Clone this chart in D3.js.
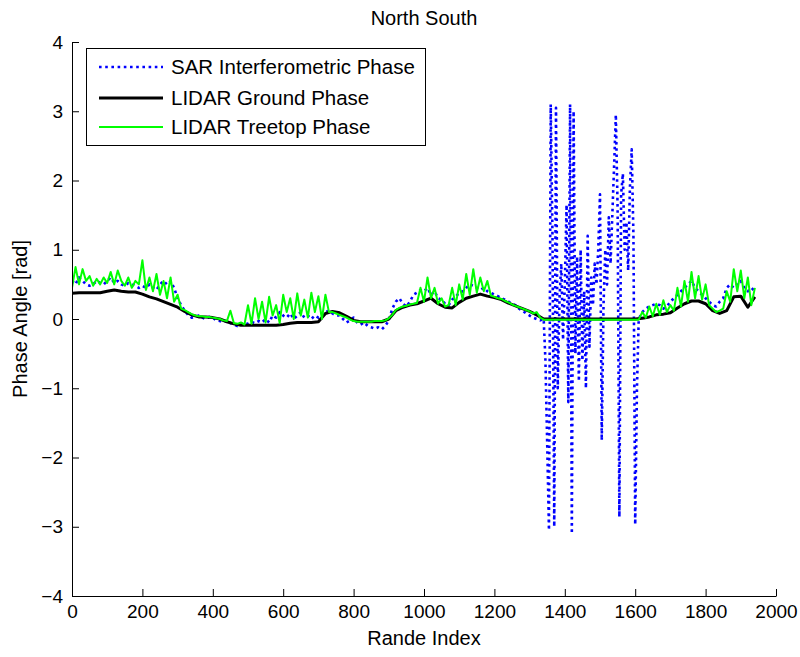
<!DOCTYPE html>
<html>
<head>
<meta charset="utf-8">
<script src="https://cdn.jsdelivr.net/npm/d3@7/dist/d3.min.js"></script>
<style>
  html, body { margin: 0; padding: 0; background: #fff; }
  svg { display: block; }
  text { font-family: "Liberation Sans", Arial, Helvetica, sans-serif; fill: #000; }
</style>
</head>
<body>
<svg id="chart" width="800" height="657"></svg>
<script>
// ---------------- DATA ----------------
const title = "North South";
const xLabel = "Rande Index";
const yLabel = "Phase Angle [rad]";
const seriesNames = ["SAR Interferometric Phase", "LIDAR Ground Phase", "LIDAR Treetop Phase"];
const xTicks = [0, 200, 400, 600, 800, 1000, 1200, 1400, 1600, 1800, 2000];
const yTicks = [-4, -3, -2, -1, 0, 1, 2, 3, 4];

// LIDAR ground phase, range index 0..1940 step 20
const groundStep = 20;
const groundPhase = [
  0.37, 0.38, 0.38, 0.38, 0.38, 0.40, 0.42, 0.40, 0.39, 0.39,
  0.36, 0.32, 0.29, 0.25, 0.21, 0.17, 0.11, 0.06, 0.03, 0.03,
  0.02, 0.00, -0.04, -0.07, -0.09, -0.09, -0.09, -0.09, -0.09, -0.09,
  -0.08, -0.06, -0.05, -0.05, -0.05, -0.04, 0.08, 0.11, 0.09, 0.04,
  -0.02, -0.04, -0.04, -0.04, -0.04, 0.00, 0.12, 0.17, 0.20, 0.22,
  0.26, 0.30, 0.22, 0.17, 0.16, 0.24, 0.30, 0.33, 0.36, 0.33,
  0.31, 0.28, 0.23, 0.19, 0.15, 0.11, 0.06, 0.00, 0.00, 0.00,
  0.00, 0.00, 0.00, 0.00, 0.00, 0.00, 0.00, 0.00, 0.00, 0.00,
  0.00, 0.01, 0.03, 0.06, 0.07, 0.09, 0.16, 0.22, 0.26, 0.26,
  0.22, 0.12, 0.08, 0.12, 0.32, 0.33, 0.17, 0.32
];

// LIDAR treetop phase, range index 0..1940 step 10
const treeStep = 10;
const treetopPhase = [
  0.45, 0.75, 0.50, 0.72, 0.55, 0.62, 0.48, 0.58, 0.50, 0.60,
  0.52, 0.68, 0.50, 0.70, 0.55, 0.48, 0.60, 0.45, 0.55, 0.50,
  0.85, 0.42, 0.60, 0.40, 0.65, 0.35, 0.55, 0.30, 0.60, 0.25,
  0.35, 0.15, 0.13, 0.10, 0.07, 0.05, 0.04, 0.04, 0.03, 0.03,
  0.02, 0.01, 0.00, -0.02, -0.03, 0.12, -0.06, -0.07, -0.05, -0.08,
  0.20, -0.07, 0.30, 0.00, 0.25, -0.05, 0.32, 0.05, 0.20, -0.06,
  0.35, 0.10, 0.30, 0.00, 0.37, 0.05, 0.28, 0.02, 0.38, 0.10,
  0.33, 0.00, 0.35, 0.10, 0.10, 0.08, 0.06, 0.04, 0.02, -0.01,
  -0.03, -0.04, -0.04, -0.04, -0.04, -0.04, -0.03, -0.03, -0.03, -0.02,
  0.01, 0.06, 0.13, 0.16, 0.18, 0.19, 0.21, 0.22, 0.23, 0.45,
  0.25, 0.60, 0.30, 0.45, 0.22, 0.30, 0.18, 0.20, 0.45, 0.20,
  0.50, 0.28, 0.65, 0.35, 0.72, 0.38, 0.60, 0.40, 0.55, 0.34,
  0.32, 0.30, 0.29, 0.26, 0.24, 0.21, 0.19, 0.17, 0.15, 0.13,
  0.11, 0.08, 0.10, 0.02, -0.01, -0.01, -0.01, -0.01, -0.01, -0.01,
  -0.01, -0.01, -0.01, -0.01, -0.01, -0.01, -0.01, -0.01, -0.01, -0.01,
  -0.01, -0.01, -0.01, -0.01, -0.01, -0.01, -0.01, -0.01, -0.01, -0.01,
  -0.01, -0.01, 0.10, 0.02, 0.18, 0.04, 0.22, 0.06, 0.27, 0.10,
  0.20, 0.12, 0.45, 0.18, 0.55, 0.25, 0.68, 0.30, 0.62, 0.28,
  0.50, 0.20, 0.15, 0.10, 0.12, 0.15, 0.40, 0.25, 0.72, 0.40,
  0.70, 0.30, 0.60, 0.20, 0.45
];

// SAR interferometric phase: three stretches
// index 0..1330 step 10
const sarLowStart = 0, sarLowStep = 10;
const sarPhaseLow = [
  0.55, 0.50, 0.60, 0.55, 0.50, 0.48, 0.50, 0.55, 0.52, 0.50,
  0.55, 0.60, 0.52, 0.55, 0.50, 0.48, 0.52, 0.50, 0.48, 0.45,
  0.48, 0.45, 0.50, 0.45, 0.42, 0.50, 0.55, 0.50, 0.55, 0.45,
  0.30, 0.20, 0.12, 0.06, 0.02, 0.03, 0.05, 0.02, 0.00, 0.03,
  0.02, -0.02, -0.03, -0.05, -0.02, -0.06, -0.08, -0.10, -0.08, -0.05,
  -0.07, -0.04, -0.06, -0.03, -0.05, 0.00, -0.05, 0.05, 0.02, 0.10,
  0.05, 0.02, 0.08, 0.00, 0.05, 0.10, 0.02, 0.05, 0.00, 0.05,
  0.02, 0.08, 0.10, 0.12, 0.08, 0.05, 0.05, 0.00, -0.05, -0.02,
  0.02, -0.05, -0.08, -0.05, -0.10, -0.12, -0.14, -0.12, -0.15, -0.10,
  -0.02, 0.15, 0.25, 0.30, 0.22, 0.18, 0.25, 0.35, 0.38, 0.42,
  0.40, 0.45, 0.35, 0.40, 0.30, 0.28, 0.22, 0.20, 0.28, 0.32,
  0.38, 0.40, 0.45, 0.50, 0.48, 0.45, 0.42, 0.45, 0.40, 0.38,
  0.35, 0.33, 0.30, 0.28, 0.25, 0.22, 0.20, 0.15, 0.12, 0.08,
  0.05, 0.02, 0.00, -0.02
];
// wrapped stretch, index 1340..1610 step 5
const sarWrapStart = 1340, sarWrapStep = 5;
const sarPhaseWrap = [
  0.00, -0.60, -1.80, -3.05, 3.10, 1.20, -3.00, 3.05, -1.00, 0.30,
  0.80, -0.30, 0.50, 1.65, -1.20, 3.10, -3.10, 3.00, -0.50, 0.90,
  -0.90, 1.00, -0.60, 0.40, -1.00, 1.20, -0.40, 0.60, 0.20, 0.80,
  0.50, 1.00, 1.80, -1.75, 0.20, 1.00, 0.50, 1.47, 0.80, 1.50,
  2.20, 2.95, 1.60, -2.86, 1.80, 2.10, 1.00, 1.40, 0.70, 1.90,
  2.45, 1.20, -2.97, -1.00, 0.00
];
// index 1620..1940 step 10
const sarHighStart = 1620, sarHighStep = 10;
const sarPhaseHigh = [
  0.10, 0.15, 0.18, 0.20, 0.22, 0.20, 0.15, 0.18, 0.25, 0.30,
  0.35, 0.40, 0.45, 0.50, 0.55, 0.45, 0.40, 0.35, 0.30, 0.25,
  0.20, 0.18, 0.25, 0.30, 0.45, 0.50, 0.45, 0.50, 0.55, 0.45,
  0.40, 0.45, 0.40
];

// ---------------- CHART ----------------
const svg = d3.select("#chart");
const margin = { left: 72, right: 24, top: 42, bottom: 61 };
const W = 800, H = 657;
const x0 = margin.left, x1 = W - margin.right;
const y0 = margin.top, y1 = H - margin.bottom;

const x = d3.scaleLinear().domain([0, 2000]).range([x0, x1]);
const y = d3.scaleLinear().domain([-4, 4]).range([y1, y0]);

const toPts = (arr, start, step) => arr.map((v, i) => [start + i * step, v]);
const sarPts = toPts(sarPhaseLow, sarLowStart, sarLowStep)
  .concat(toPts(sarPhaseWrap, sarWrapStart, sarWrapStep))
  .concat(toPts(sarPhaseHigh, sarHighStart, sarHighStep));
const groundPts = toPts(groundPhase, 0, groundStep);
const treePts = toPts(treetopPhase, 0, treeStep);

svg.append("defs").append("clipPath").attr("id", "clip")
  .append("rect").attr("x", x0).attr("y", y0).attr("width", x1 - x0).attr("height", y1 - y0);

const line = d3.line().x(d => x(d[0])).y(d => y(d[1]));
const styles = [
  { color: "#0000ff", width: 2.6, dash: "2.6,3.6" },
  { color: "#000000", width: 3, dash: null },
  { color: "#00ff00", width: 2, dash: null }
];
const g = svg.append("g").attr("clip-path", "url(#clip)");
[sarPts, groundPts, treePts].forEach((pts, k) => {
  g.append("path").datum(pts)
    .attr("fill", "none")
    .attr("stroke", styles[k].color)
    .attr("stroke-width", styles[k].width)
    .attr("stroke-dasharray", styles[k].dash)
    .attr("stroke-linejoin", "round")
    .attr("d", line);
});

// axes
const fontSize = 20;
const fmt = d3.format("d");
const xAxis = d3.axisBottom(x).tickValues(xTicks).tickFormat(fmt).tickSizeInner(-7).tickSizeOuter(0).tickPadding(9);
const yAxis = d3.axisLeft(y).tickValues(yTicks).tickFormat(fmt).tickSizeInner(-7).tickSizeOuter(0).tickPadding(9);
const gx = svg.append("g").attr("transform", `translate(0,${y1})`).call(xAxis);
const gy = svg.append("g").attr("transform", `translate(${x0},0)`).call(yAxis);
[gx, gy].forEach(a => {
  a.select(".domain").attr("stroke", "#000").attr("stroke-width", 1);
  a.selectAll(".tick line").attr("stroke", "#000").attr("stroke-width", 1);
  a.selectAll(".tick text").attr("fill", "#000").style("font-size", "19px")
    .style("font-family", '"Liberation Sans", Arial, sans-serif');
});

// title and labels
svg.append("text").attr("x", (x0 + x1) / 2).attr("y", 25).attr("text-anchor", "middle")
  .style("font-size", fontSize + "px").text(title);
svg.append("text").attr("x", (x0 + x1) / 2).attr("y", 645).attr("text-anchor", "middle")
  .style("font-size", fontSize + "px").text(xLabel);
svg.append("text").attr("transform", `translate(27,${(y0 + y1) / 2}) rotate(-90)`)
  .attr("text-anchor", "middle").style("font-size", fontSize + "px").text(yLabel);

// legend
const lg = svg.append("g");
lg.append("rect").attr("x", 86.5).attr("y", 48.5).attr("width", 339).attr("height", 97)
  .attr("fill", "#fff").attr("stroke", "#000").attr("stroke-width", 1);
const rowY = [67, 98, 127];
seriesNames.forEach((name, k) => {
  lg.append("line").attr("x1", 99).attr("x2", 163).attr("y1", rowY[k]).attr("y2", rowY[k])
    .attr("stroke", styles[k].color).attr("stroke-width", styles[k].width)
    .attr("stroke-dasharray", styles[k].dash);
  lg.append("text").attr("x", 171).attr("y", rowY[k] + 7).style("font-size", "20.5px").text(name);
});
</script>
</body>
</html>
